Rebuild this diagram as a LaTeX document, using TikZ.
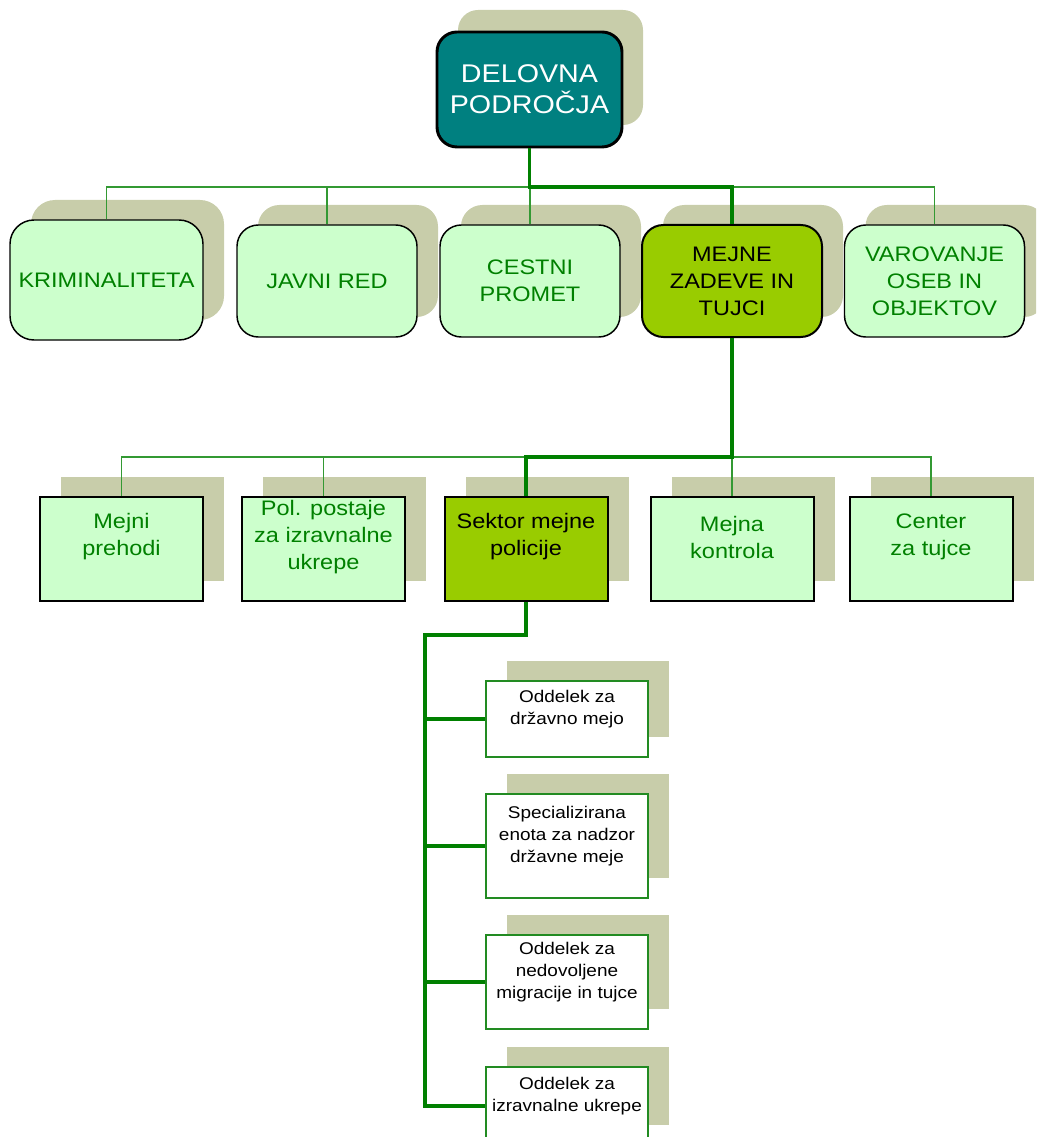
\documentclass[tikz,border=0pt]{standalone}
\usepackage{fontspec}
\setmainfont{Liberation Sans}[FakeStretch=1.12]
\usetikzlibrary{shadows}
\definecolor{shadowc}{RGB}{200,205,170}
\definecolor{tealc}{RGB}{0,128,128}
\definecolor{lightg}{RGB}{204,255,204}
\definecolor{yellowg}{RGB}{153,204,0}
\definecolor{textg}{RGB}{0,128,0}
\definecolor{thinlc}{RGB}{51,153,51}
\definecolor{thicklc}{RGB}{0,128,0}
\definecolor{borderg}{RGB}{34,139,34}
\begin{document}
\begin{tikzpicture}[x=0.75pt,y=-0.75pt,
  shd/.style={general shadow={fill=shadowc, shadow xshift=15.75pt, shadow yshift=#1}},
  rootbox/.style={shd=16.5pt, draw=black, line width=2.2pt, fill=tealc, rounded corners=15pt,
    minimum width=138.75pt, minimum height=86.25pt, inner sep=0pt, text=white, align=center,
    font=\fontsize{19.2}{23.25}\selectfont},
  rowone/.style={shd=15pt, draw=black, line width=1.1pt, fill=lightg, rounded corners=16pt,
    minimum width=135pt, minimum height=84pt, inner sep=0pt, text=textg, align=center,
    font=\fontsize{15.75}{20.25}\selectfont},
  rowtwo/.style={shd=15pt, draw=black, line width=1.5pt, fill=lightg,
    minimum width=122.25pt, minimum height=78pt, inner sep=0pt},
  bottombox/.style={shd=15pt, draw=borderg, line width=1.4pt, fill=white,
    minimum width=121.5pt, inner sep=0pt},
  twotxt/.style={align=center, inner sep=0pt, text=textg, font=\fontsize{15.75}{20.25}\selectfont},
  bottxt/.style={align=center, inner sep=0pt, text=black, font=\fontsize{12.7}{16.5}\selectfont},
  thinc/.style={draw=thinlc, line width=0.85pt},
  thickc/.style={draw=thicklc, line width=2.4pt},
]
\useasboundingbox (0,0) rectangle (1036,1137);
\clip (0,0) rectangle (1036,1137);

% root
\node[rootbox] (root) at (529.5,89.5) {DELOVNA\\PODROČJA};

% row one
\node[rowone, minimum width=144.75pt, minimum height=90pt, rounded corners=18pt] (krim) at (106.5,280) {KRIMINALITETA};
\node[rowone] (javni) at (327,281) {JAVNI RED};
\node[rowone] (cestni) at (530,281) {CESTNI\\PROMET};
\node[rowone, fill=yellowg, text=black, line width=1.5pt] (mejne) at (732,281) {MEJNE\\ZADEVE IN\\TUJCI};
\node[rowone] (varo) at (934.5,281) {VAROVANJE\\OSEB IN\\OBJEKTOV};

% row two
\node[rowtwo] (mprehodi) at (121.5,549) {};
\node[rowtwo] (polpost) at (323.5,549) {};
\node[rowtwo, fill=yellowg] (sektor) at (526,549) {};
\node[rowtwo] (mkontrola) at (732,549) {};
\node[rowtwo] (ctuj) at (931,549) {};
\node[twotxt] (t-mprehodi) at ([yshift=9pt]mprehodi.center) {Mejni\\prehodi};
\node[twotxt] (t-polpost) at ([yshift=9pt]polpost.center) {Pol. postaje\\za izravnalne\\ukrepe};
\node[twotxt, text=black] (t-sektor) at ([yshift=9pt]sektor.center) {Sektor mejne\\policije};
\node[twotxt] (t-mkontrola) at ([yshift=9pt]mkontrola.center) {Mejna\\kontrola};
\node[twotxt] (t-ctuj) at ([yshift=9pt]ctuj.center) {Center\\za tujce};

% bottom boxes
\node[bottombox, minimum height=57pt] (odA) at (567,719) {};
\node[bottombox, minimum height=78pt] (odB) at (567,846) {};
\node[bottombox, minimum height=70.5pt] (odC) at (567,982) {};
\node[bottombox, minimum height=58.5pt] (odD) at (567,1106) {};
\node[bottxt] (t-odA) at ([yshift=7.3pt]odA.center) {Oddelek za\\državno mejo};
\node[bottxt] (t-odB) at ([yshift=7.3pt]odB.center) {Specializirana\\enota za nadzor\\državne meje};
\node[bottxt] (t-odC) at ([yshift=7.3pt]odC.center) {Oddelek za\\nedovoljene\\migracije in tujce};
\node[bottxt] (t-odD) at ([yshift=7.3pt]odD.center) {Oddelek za\\izravnalne ukrepe};

% connectors
\coordinate (bus1) at (0,187);
\coordinate (bus2) at (0,457);
\coordinate (ttop) at (425,635);

\draw[thinc] (krim.north) -- (krim.north |- bus1) -- (varo.north |- bus1) -- (varo.north);
\draw[thinc] (javni.north) -- (javni.north |- bus1);
\draw[thinc] (cestni.north) -- (cestni.north |- bus1);
\draw[thickc] (root.south) -- (root.south |- bus1) -- (mejne.north |- bus1) -- (mejne.north);

\draw[thinc] (mprehodi.north) -- (mprehodi.north |- bus2) -- (ctuj.north |- bus2) -- (ctuj.north);
\draw[thinc] (polpost.north) -- (polpost.north |- bus2);
\draw[thinc] (mkontrola.north) -- (mkontrola.north |- bus2);
\draw[thickc] (mejne.south) -- (mejne.south |- bus2) -- (sektor.north |- bus2) -- (sektor.north);

\draw[thickc] (sektor.south) -- (sektor.south |- ttop) -- (ttop) -- (ttop |- odD.west) -- (odD.west);
\draw[thickc] (ttop |- odA.west) -- (odA.west);
\draw[thickc] (ttop |- odB.west) -- (odB.west);
\draw[thickc] (ttop |- odC.west) -- (odC.west);
\end{tikzpicture}
\end{document}
